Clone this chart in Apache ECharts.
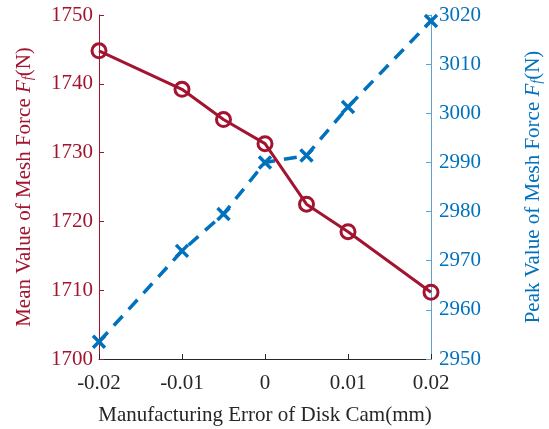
<!DOCTYPE html>
<html><head><meta charset="utf-8">
<script src="https://cdn.jsdelivr.net/npm/echarts@6/dist/echarts.min.js"></script>
<style>html,body{margin:0;padding:0;background:#fff;}#c{width:549px;height:429px;}</style>
</head><body><div id="c"></div>
<script>
const xValues = [-0.02, -0.01, -0.005, 0, 0.005, 0.01, 0.02];
const meanForce = [1744.8, 1739.2, 1734.8, 1731.3, 1722.5, 1718.5, 1709.7];
const peakForce = [2953.5, 2972.0, 2979.5, 2990.0, 2991.4, 3001.3, 3018.8];
const xTicks = [-0.02, -0.01, 0, 0.01, 0.02];
const leftTicks = [1700, 1710, 1720, 1730, 1740, 1750];
const rightTicks = [2950, 2960, 2970, 2980, 2990, 3000, 3010, 3020];

const RED = '#A2142F', BLUE = '#0072BD', DARK = '#262626';
const FONT = '"Liberation Serif", "DejaVu Serif", serif';
const chart = echarts.init(document.getElementById('c'));
const richName = (col) => ({
  i: {fontFamily: FONT, fontSize: 21, fontStyle: 'italic', color: col},
  s: {fontFamily: FONT, fontSize: 14, fontStyle: 'italic', color: col, verticalAlign: 'bottom', padding: [8,0,0,0]}
});
chart.setOption({
  animation: false,
  backgroundColor: '#fff',
  grid: {left: 99, right: 118, top: 15, bottom: 70, containLabel: false, outerBoundsMode: 'none'},
  xAxis: {
    type: 'value', min: xTicks[0], max: xTicks[xTicks.length-1], interval: 0.01,
    name: 'Manufacturing Error of Disk Cam(mm)', nameLocation: 'middle', nameGap: 46,
    nameTextStyle: {fontFamily: FONT, fontSize: 21, color: DARK},
    axisLine: {onZero: false, lineStyle: {color: DARK, width: 1}},
    axisTick: {inside: true, length: 5, lineStyle: {color: DARK}},
    axisLabel: {fontFamily: FONT, fontSize: 21, color: DARK, margin: 14,
      formatter: v => { const r = Math.round(v*100)/100; return r === 0 ? '0' : r.toFixed(2); }},
    splitLine: {show: false}
  },
  yAxis: [{
    type: 'value', min: leftTicks[0], max: leftTicks[leftTicks.length-1], interval: 10, position: 'left',
    name: 'Mean Value of Mesh Force {i|F}{s|f}(N)', nameLocation: 'middle', nameGap: 64, nameRotate: 90,
    nameTextStyle: {fontFamily: FONT, fontSize: 21, color: RED, rich: richName(RED)},
    axisLine: {show: true, onZero: false, lineStyle: {color: RED, width: 1}},
    axisTick: {show: true, inside: true, length: 5, lineStyle: {color: RED}},
    axisLabel: {fontFamily: FONT, fontSize: 21, color: RED, margin: 6, formatter: v => String(v)},
    splitLine: {show: false}
  }, {
    type: 'value', min: rightTicks[0], max: rightTicks[rightTicks.length-1], interval: 10, position: 'right',
    name: 'Peak Value of Mesh Force {i|F}{s|f}(N)', nameLocation: 'middle', nameGap: 91, nameRotate: 90,
    nameTextStyle: {fontFamily: FONT, fontSize: 21, color: BLUE, rich: richName(BLUE)},
    axisLine: {show: true, onZero: false, lineStyle: {color: '#5DA3D4', width: 1}},
    axisTick: {show: true, inside: true, length: 5, lineStyle: {color: '#5DA3D4'}},
    axisLabel: {fontFamily: FONT, fontSize: 21, color: BLUE, margin: 8, formatter: v => String(v)},
    splitLine: {show: false}
  }],
  series: [{
    type: 'line', yAxisIndex: 1,
    data: xValues.map((x, i) => [x, peakForce[i]]),
    lineStyle: {color: BLUE, width: 3.5, type: [13, 9]},
    symbol: 'path://M0,0L10,10M10,0L0,10', symbolSize: 12, showSymbol: true,
    itemStyle: {color: 'none', borderColor: BLUE, borderWidth: 3.5},
    z: 2
  }, {
    type: 'line', yAxisIndex: 0,
    data: xValues.map((x, i) => [x, meanForce[i]]),
    lineStyle: {color: RED, width: 3},
    symbol: 'circle', symbolSize: 14, showSymbol: true,
    itemStyle: {color: 'rgba(0,0,0,0)', borderColor: RED, borderWidth: 3},
    z: 3
  }]
});
</script></body></html>
